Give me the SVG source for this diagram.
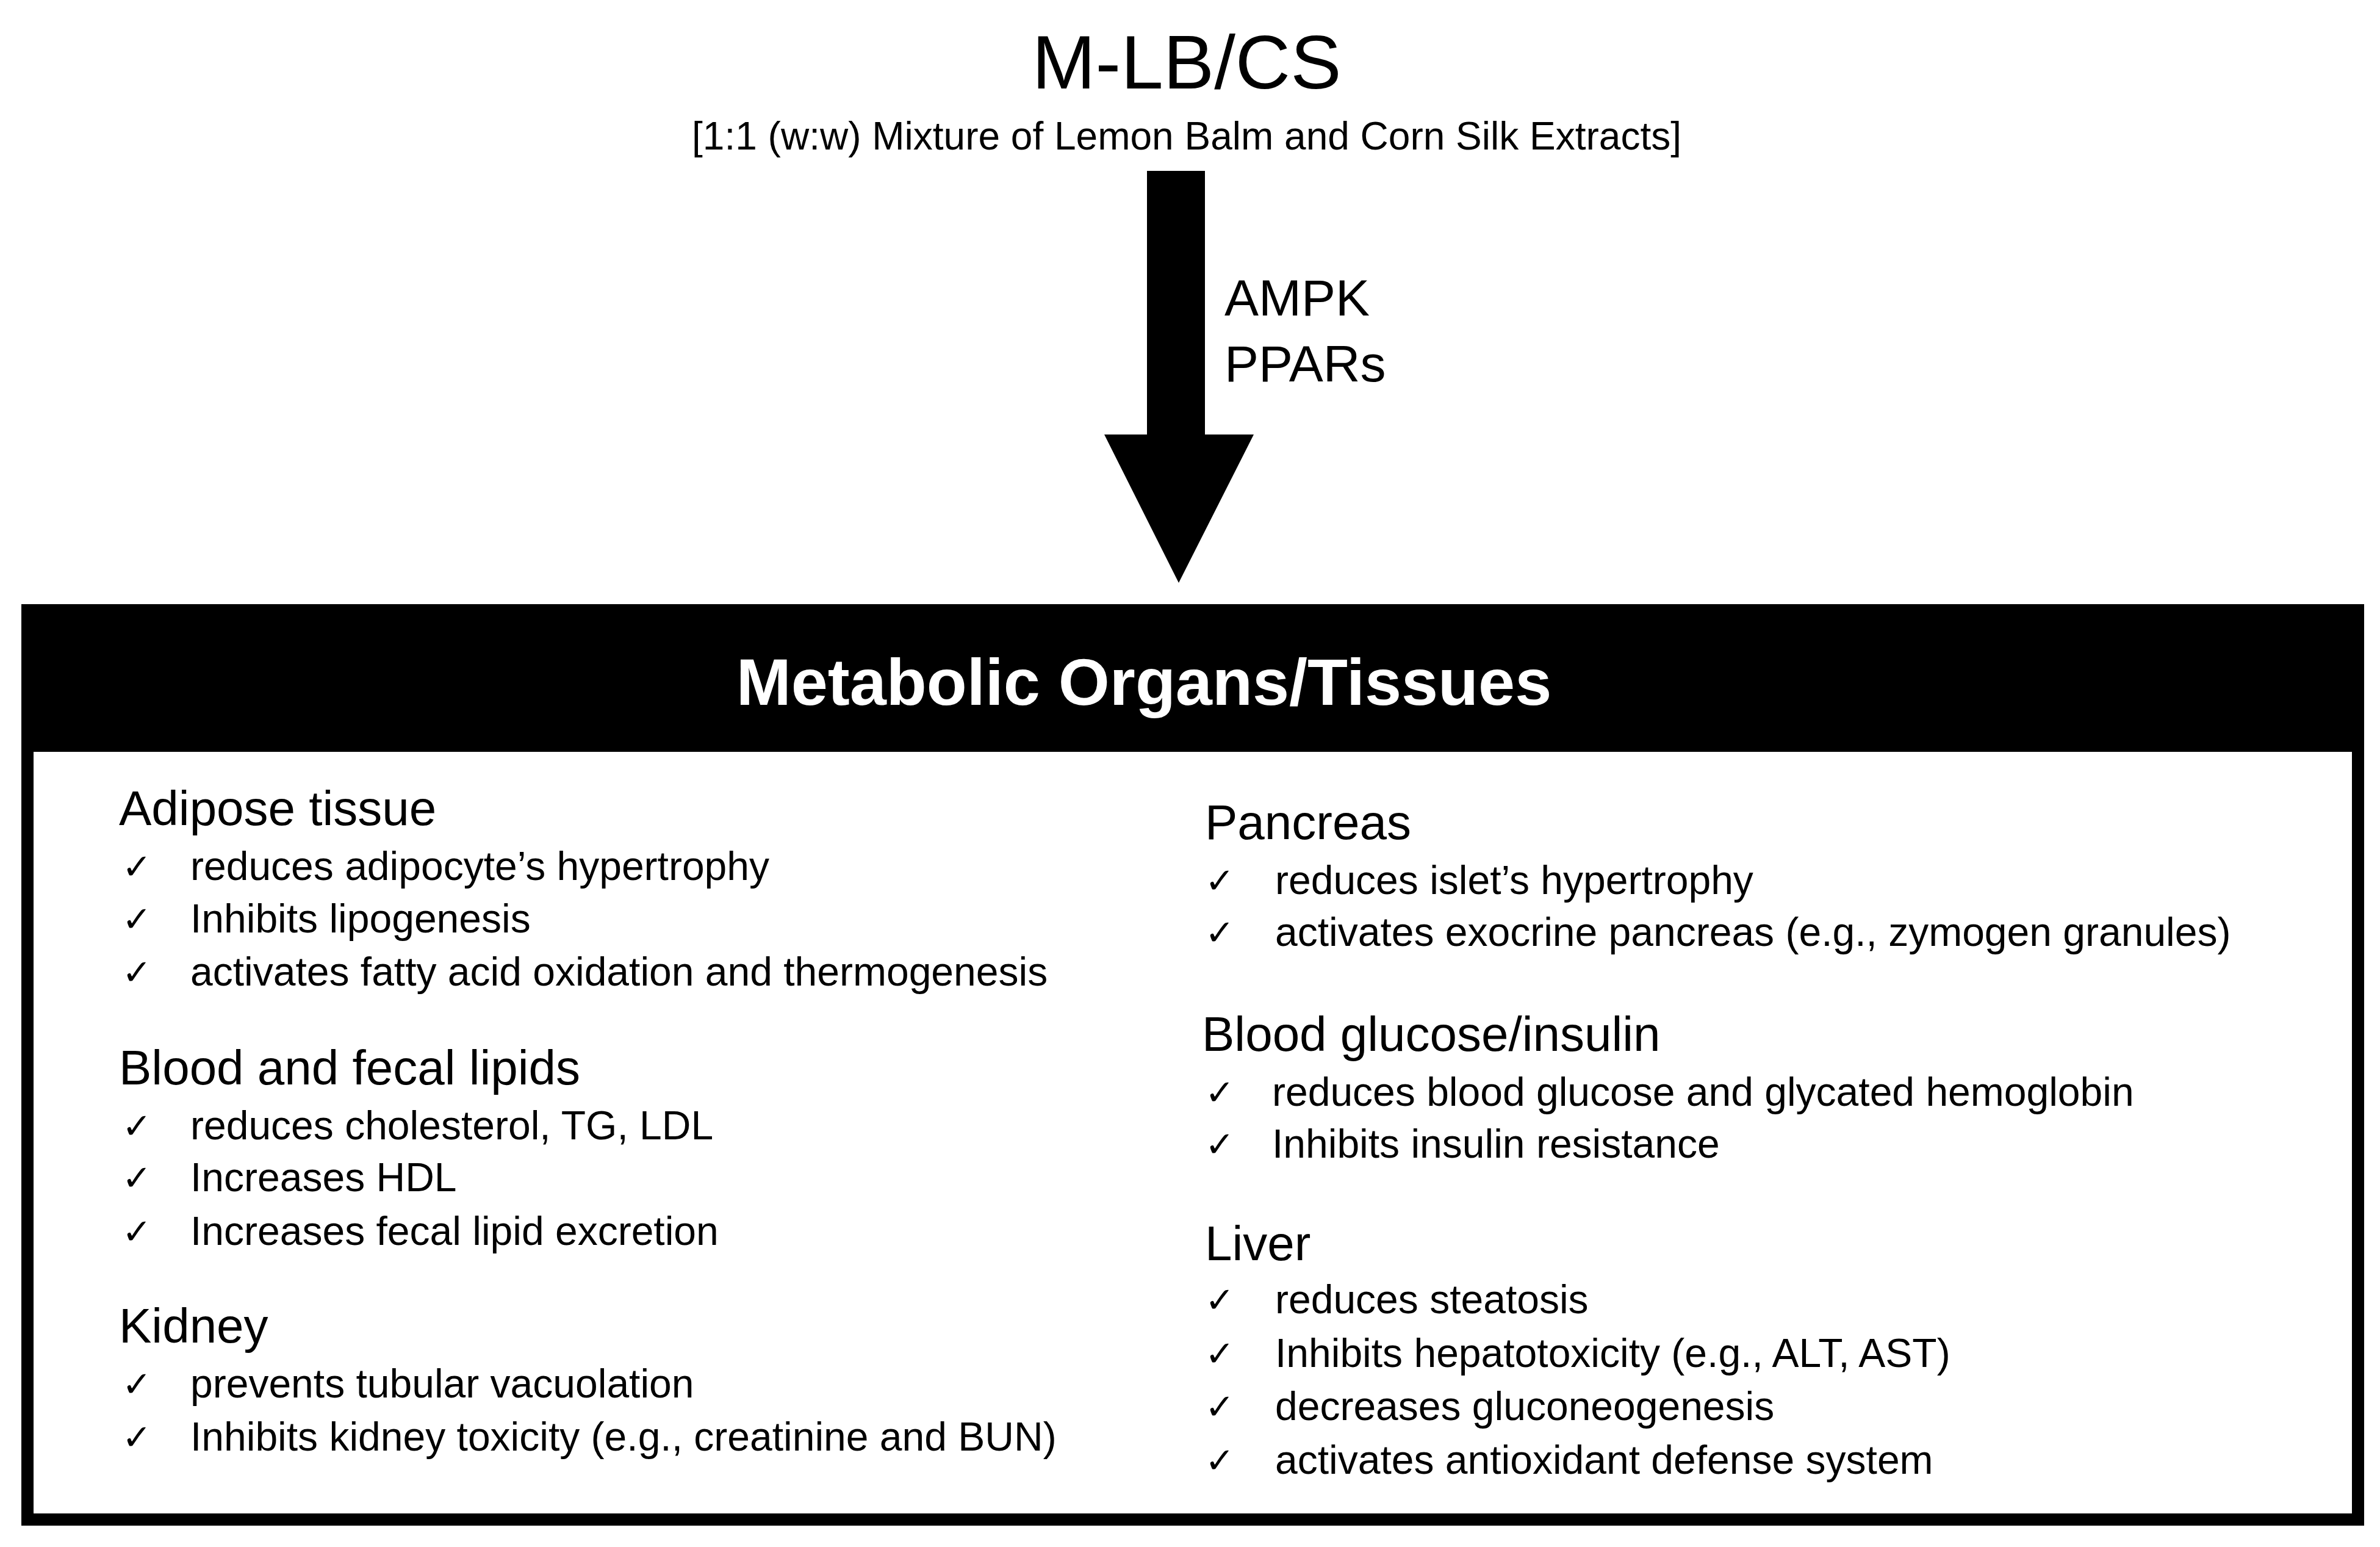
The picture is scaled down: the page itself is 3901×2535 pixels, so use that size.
<svg xmlns="http://www.w3.org/2000/svg" width="3901" height="2535" viewBox="0 0 3901 2535">
<style>
text{font-family:"Liberation Sans","DejaVu Sans",Arial,sans-serif;fill:#000}
.h{font-size:80px}
.i{font-size:66px}
.c{font-size:58px;font-family:"DejaVu Sans",sans-serif}
</style>
<rect width="3901" height="2535" fill="#fff"/>
<g id="source">
<text x="1945" y="145" font-size="125" text-anchor="middle">M-LB/CS</text>
<text x="1945" y="245" font-size="64" text-anchor="middle">[1:1 (w:w) Mixture of Lemon Balm and Corn Silk Extracts]</text>
</g>
<g id="connectors">
<polygon points="1880,280 1975,280 1975,712 2055,712 1932,955 1810,712 1880,712" fill="#000"/>
<text x="2007" y="517" font-size="84">AMPK</text>
<text x="2007" y="625" font-size="84">PPARs</text>
</g>
<g id="organs">
<rect x="45" y="1000" width="3820" height="1490" fill="#fff" stroke="#000" stroke-width="20"/>
<rect x="35" y="990" width="3840" height="242" fill="#000"/>
<text x="1875" y="1155" font-size="108" font-weight="bold" text-anchor="middle" style="fill:#fff">Metabolic Organs/Tissues</text>
</g>
<g id="left">
<text class="h" x="195" y="1352">Adipose tissue</text>
<text class="c" x="200" y="1440">✓</text><text class="i" x="312" y="1442">reduces adipocyte’s hypertrophy</text>
<text class="c" x="200" y="1526">✓</text><text class="i" x="312" y="1528">Inhibits lipogenesis</text>
<text class="c" x="200" y="1613">✓</text><text class="i" x="312" y="1615">activates fatty acid oxidation and thermogenesis</text>
<text class="h" x="195" y="1777">Blood and fecal lipids</text>
<text class="c" x="200" y="1865">✓</text><text class="i" x="312" y="1867">reduces cholesterol, TG, LDL</text>
<text class="c" x="200" y="1950">✓</text><text class="i" x="312" y="1952">Increases HDL</text>
<text class="c" x="200" y="2038">✓</text><text class="i" x="312" y="2040">Increases fecal lipid excretion</text>
<text class="h" x="195" y="2200">Kidney</text>
<text class="c" x="200" y="2288">✓</text><text class="i" x="312" y="2290">prevents tubular vacuolation</text>
<text class="c" x="200" y="2375">✓</text><text class="i" x="312" y="2377">Inhibits kidney toxicity (e.g., creatinine and BUN)</text>
</g>
<g id="right">
<text class="h" x="1975" y="1375">Pancreas</text>
<text class="c" x="1975" y="1463">✓</text><text class="i" x="2090" y="1465">reduces islet’s hypertrophy</text>
<text class="c" x="1975" y="1548">✓</text><text class="i" x="2090" y="1550">activates exocrine pancreas (e.g., zymogen granules)</text>
<text class="h" x="1970" y="1722">Blood glucose/insulin</text>
<text class="c" x="1975" y="1810">✓</text><text class="i" x="2085" y="1812">reduces blood glucose and glycated hemoglobin</text>
<text class="c" x="1975" y="1895">✓</text><text class="i" x="2085" y="1897">Inhibits insulin resistance</text>
<text class="h" x="1975" y="2065">Liver</text>
<text class="c" x="1975" y="2150">✓</text><text class="i" x="2090" y="2152">reduces steatosis</text>
<text class="c" x="1975" y="2238">✓</text><text class="i" x="2090" y="2240">Inhibits hepatotoxicity (e.g., ALT, AST)</text>
<text class="c" x="1975" y="2325">✓</text><text class="i" x="2090" y="2327">decreases gluconeogenesis</text>
<text class="c" x="1975" y="2413">✓</text><text class="i" x="2090" y="2415">activates antioxidant defense system</text>
</g>
</svg>
